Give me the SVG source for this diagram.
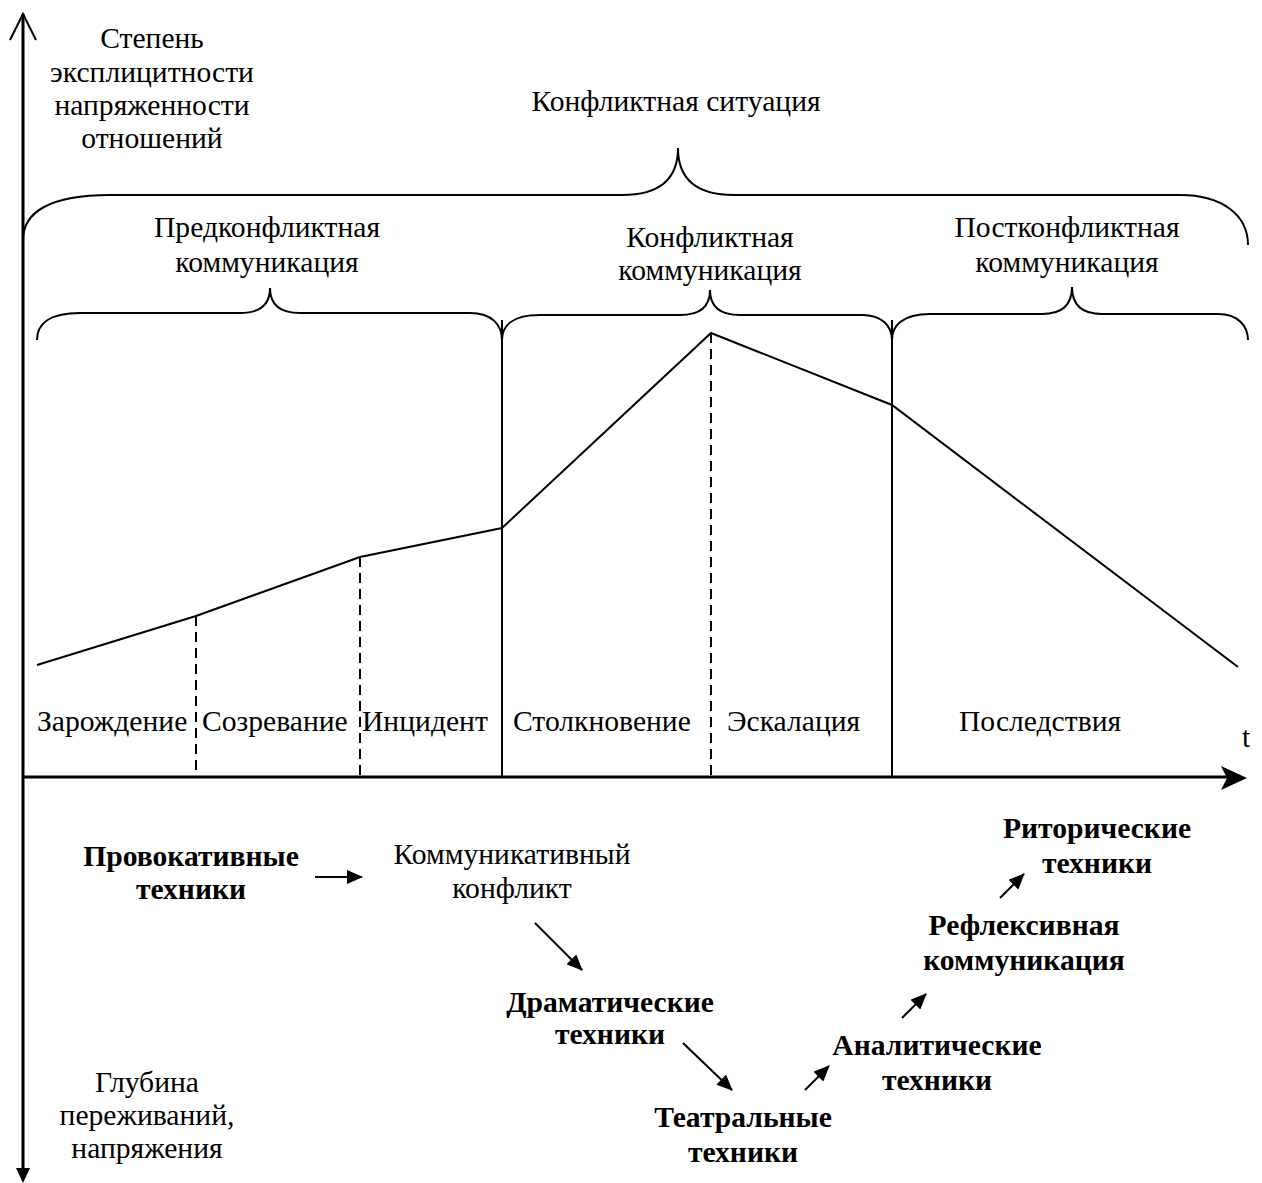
<svg xmlns="http://www.w3.org/2000/svg" width="1262" height="1183" viewBox="0 0 1262 1183">
<style>
text{font-family:"Liberation Serif","Times New Roman",serif;font-size:29.6px;fill:#000}
.c{text-anchor:middle}
.b{font-weight:bold}
.ln{fill:none;stroke:#000;stroke-width:2}
.ax{fill:none;stroke:#000;stroke-width:3}
.ds{fill:none;stroke:#000;stroke-width:2;stroke-dasharray:10 6}
.ar{fill:none;stroke:#000;stroke-width:2;marker-end:url(#ah)}
</style>
<defs>
<marker id="ah" markerWidth="16" markerHeight="14" refX="15" refY="7" orient="auto" markerUnits="userSpaceOnUse" viewBox="0 0 16 14">
<path d="M0,0 L16,7 L0,14 Z" fill="#000"/>
</marker>
</defs>
<rect width="1262" height="1183" fill="#fff"/>
<g id="axes">
<path class="ax" d="M23,14 L23,1172"/>
<path class="ln" d="M10,40 L23,14 L36,40"/>
<path d="M16,1168 L30,1168 L23,1183 Z" fill="#000"/>
<path class="ax" d="M23,777 L1232,777"/>
<path d="M1247,778 L1221,766 L1227,778 L1221,790 Z" fill="#000"/>
</g>
<g id="braces">
<path class="ln" d="M23,240 C23,212 50,195 110,195 L622,195 C658,195 678,180 678,148 C678,180 698,195 734,195 L1180,195 C1222,195 1248,215 1248,245"/>
<path class="ln" d="M37,340 C37,325 48,313 80,313 L240,313 C262,313 270,303 270,288 C270,303 278,313 300,313 L470,313 C492,313 502,325 502,340"/>
<path class="ln" d="M502,340 C502,326 512,315 540,315 L680,315 C702,315 710,305 710,290 C710,305 718,315 740,315 L862,315 C882,315 892,326 892,340"/>
<path class="ln" d="M892,340 C892,326 902,314 930,314 L1042,314 C1064,314 1072,303 1072,287 C1072,303 1080,314 1102,314 L1218,314 C1238,314 1248,326 1248,340"/>
</g>
<g id="curve">
<polyline class="ln" points="37,665 196,616 360,557 502,528 711,333 892,405 1238,667"/>
<path class="ds" d="M196,616 L196,777 M360,557 L360,777 M711,333 L711,777"/>
<path class="ln" d="M502,320 L502,777 M892,320 L892,777"/>
</g>
<g id="labels-top">
<text class="c" x="152" y="48">Степень</text>
<text class="c" x="152" y="82">эксплицитности</text>
<text class="c" x="152" y="115">напряженности</text>
<text class="c" x="152" y="148">отношений</text>
<text class="c" x="676" y="111">Конфликтная ситуация</text>
<text class="c" x="267" y="237">Предконфликтная</text>
<text class="c" x="267" y="272">коммуникация</text>
<text class="c" x="710" y="247">Конфликтная</text>
<text class="c" x="710" y="280">коммуникация</text>
<text class="c" x="1067" y="237">Постконфликтная</text>
<text class="c" x="1067" y="272">коммуникация</text>
</g>
<g id="phases">
<text x="37" y="731">Зарождение</text>
<text x="202" y="731">Созревание</text>
<text x="362" y="731">Инцидент</text>
<text x="513" y="731">Столкновение</text>
<text x="727" y="731">Эскалация</text>
<text x="959" y="731">Последствия</text>
<text x="1242" y="747">t</text>
</g>
<g id="node-provocative"><text class="c b" x="191" y="866">Провокативные</text><text class="c b" x="191" y="899">техники</text></g>
<g id="node-comm-conflict"><text class="c" x="512" y="864">Коммуникативный</text><text class="c" x="512" y="898">конфликт</text></g>
<g id="node-dramatic"><text class="c b" x="610" y="1012">Драматические</text><text class="c b" x="610" y="1044">техники</text></g>
<g id="node-theatrical"><text class="c b" x="743" y="1127">Театральные</text><text class="c b" x="743" y="1162">техники</text></g>
<g id="node-analytic"><text class="c b" x="937" y="1055">Аналитические</text><text class="c b" x="937" y="1090">техники</text></g>
<g id="node-reflexive"><text class="c b" x="1024" y="935">Рефлексивная</text><text class="c b" x="1024" y="970">коммуникация</text></g>
<g id="node-rhetoric"><text class="c b" x="1097" y="838">Риторические</text><text class="c b" x="1097" y="873">техники</text></g>
<g id="label-bottom">
<text class="c" x="147" y="1092">Глубина</text>
<text class="c" x="147" y="1125">переживаний,</text>
<text class="c" x="147" y="1158">напряжения</text>
</g>
<g id="connectors">
<path class="ar" d="M315,877 L362,877"/>
<path class="ar" d="M535,923 L582,970"/>
<path class="ar" d="M683,1043 L732,1090"/>
<path class="ar" d="M805,1090 L829,1066"/>
<path class="ar" d="M902,1018 L926,994"/>
<path class="ar" d="M1000,898 L1024,874"/>
</g>
</svg>
